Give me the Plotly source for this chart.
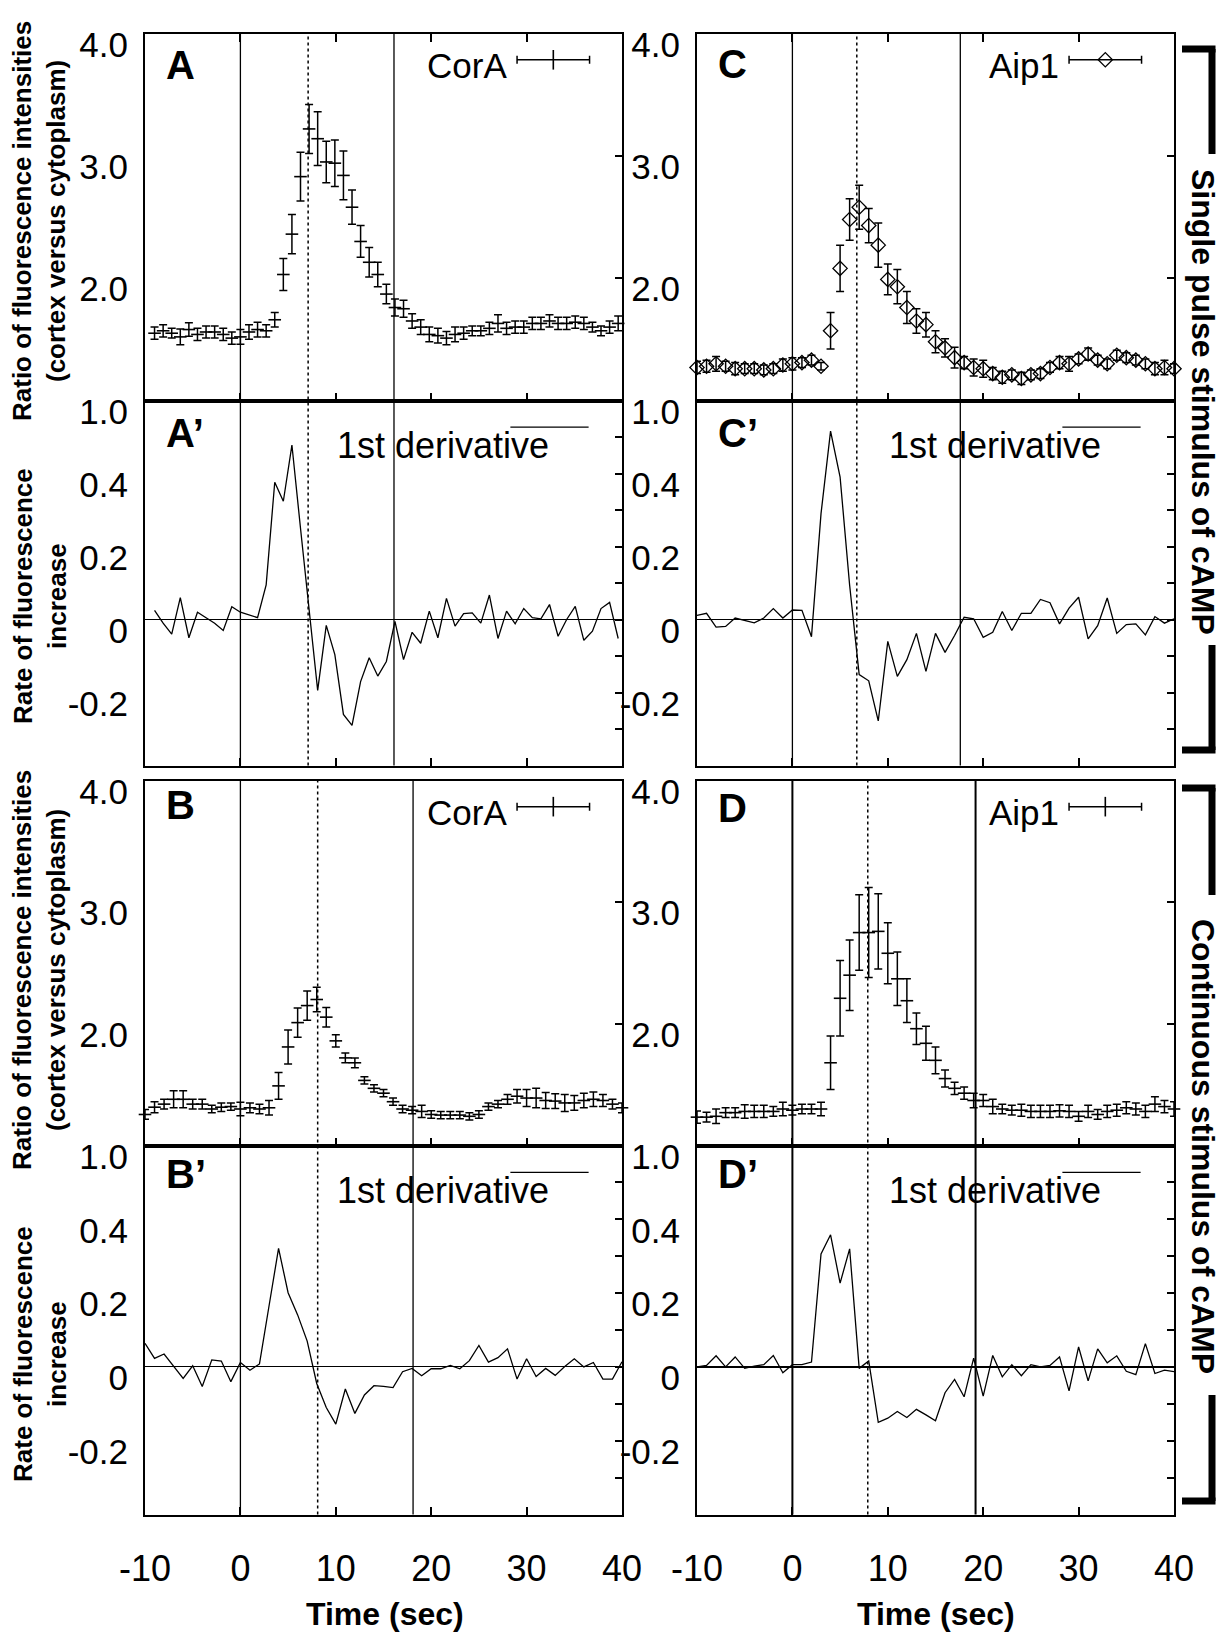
import plotly.graph_objects as go

W, H = 1227, 1634
FONT = "Liberation Sans, Arial, Helvetica, sans-serif"

# ---------------- data ----------------
TIME_A = [-9.0, -8.1, -7.2, -6.3, -5.4, -4.5, -3.6, -2.7, -1.8, -0.9,
          0.0, 0.9, 1.8, 2.7, 3.6, 4.5, 5.4, 6.3, 7.2, 8.1,
          9.0, 9.9, 10.8, 11.7, 12.6, 13.5, 14.4, 15.3, 16.2, 17.1,
          18.0, 18.9, 19.8, 20.7, 21.6, 22.5, 23.4, 24.3, 25.2, 26.1,
          27.0, 27.9, 28.8, 29.7, 30.6, 31.5, 32.4, 33.3, 34.2, 35.1,
          36.0, 36.9, 37.8, 38.7, 39.6]
TIME_1S = [-10, -9, -8, -7, -6, -5, -4, -3, -2, -1,
           0, 1, 2, 3, 4, 5, 6, 7, 8, 9,
           10, 11, 12, 13, 14, 15, 16, 17, 18, 19,
           20, 21, 22, 23, 24, 25, 26, 27, 28, 29,
           30, 31, 32, 33, 34, 35, 36, 37, 38, 39, 40]

A_RATIO = [1.55, 1.57, 1.55, 1.52, 1.58, 1.54, 1.56, 1.56, 1.54, 1.51,
           1.52, 1.56, 1.58, 1.57, 1.66, 2.03, 2.36, 2.83, 3.22, 3.14,
           2.95, 2.94, 2.84, 2.58, 2.30, 2.13, 2.03, 1.87, 1.76, 1.75,
           1.65, 1.60, 1.54, 1.53, 1.51, 1.54, 1.55, 1.57, 1.57, 1.59,
           1.63, 1.59, 1.60, 1.60, 1.63, 1.63, 1.65, 1.63, 1.63, 1.64,
           1.63, 1.60, 1.57, 1.60, 1.63]
A_ERR = [0.05, 0.05, 0.04, 0.065, 0.055, 0.05, 0.05, 0.05, 0.05, 0.05,
         0.06, 0.06, 0.06, 0.05, 0.06, 0.13, 0.16, 0.20, 0.20, 0.22,
         0.17, 0.19, 0.20, 0.14, 0.13, 0.12, 0.10, 0.08, 0.07, 0.07,
         0.06, 0.06, 0.06, 0.06, 0.055, 0.06, 0.05, 0.04, 0.04, 0.05,
         0.07, 0.05, 0.05, 0.05, 0.05, 0.05, 0.05, 0.05, 0.05, 0.05,
         0.05, 0.04, 0.04, 0.05, 0.06]
A_DERIV = [0.025, -0.01, -0.04, 0.06, -0.05, 0.02, 0.005, -0.01, -0.03, 0.035,
           0.02, 0.012, 0.005, 0.095, 0.376, 0.324, 0.478, 0.25, 0.03, -0.194,
           -0.016, -0.096, -0.26, -0.29, -0.17, -0.105, -0.155, -0.115, -0.005, -0.11,
           -0.035, -0.065, 0.023, -0.05, 0.058, -0.018, 0.016, 0.018, -0.01, 0.067,
           -0.052, 0.023, -0.012, 0.03, 0.005, 0.002, 0.041, -0.046, 0.0, 0.036,
           -0.057, -0.032, 0.03, 0.047, -0.052]

B_RATIO = [1.255, 1.315, 1.34, 1.38, 1.38, 1.34, 1.34, 1.30, 1.315, 1.32,
           1.30, 1.31, 1.30, 1.31, 1.49, 1.81, 2.01, 2.15, 2.20, 2.055,
           1.86, 1.72, 1.68, 1.535, 1.47, 1.43, 1.36, 1.30, 1.29, 1.28,
           1.255, 1.25, 1.25, 1.25, 1.24, 1.255, 1.32, 1.34, 1.38, 1.405,
           1.39, 1.39, 1.37, 1.365, 1.35, 1.35, 1.37, 1.38, 1.37, 1.34, 1.31]
B_ERR = [0.04, 0.045, 0.04, 0.07, 0.07, 0.04, 0.04, 0.03, 0.035, 0.03,
         0.055, 0.04, 0.04, 0.06, 0.11, 0.14, 0.12, 0.12, 0.10, 0.08,
         0.05, 0.04, 0.04, 0.03, 0.03, 0.03, 0.03, 0.03, 0.03, 0.05,
         0.03, 0.03, 0.03, 0.03, 0.03, 0.03, 0.03, 0.03, 0.04, 0.055,
         0.07, 0.08, 0.065, 0.06, 0.07, 0.06, 0.06, 0.06, 0.05, 0.04, 0.04]
B_DERIV = [0.064, 0.023, 0.035, 0.003, -0.031, 0.003, -0.053, 0.019, 0.016, -0.04,
           0.012, -0.009, 0.008, 0.165, 0.321, 0.201, 0.141, 0.07, -0.045, -0.11,
           -0.155, -0.06, -0.126, -0.076, -0.051, -0.053, -0.056, -0.013, -0.004, -0.024,
           -0.005, -0.005, 0.004, -0.005, 0.017, 0.058, 0.013, 0.025, 0.049, -0.033,
           0.022, -0.026, -0.004, -0.023, 0.001, 0.022, 0.0, 0.012, -0.033, -0.033, 0.014]

C_RATIO = [1.27, 1.28, 1.30, 1.28, 1.26, 1.26, 1.26, 1.25, 1.26, 1.29,
           1.30, 1.31, 1.33, 1.28, 1.57, 2.08, 2.48, 2.58, 2.43, 2.27,
           1.99, 1.93, 1.76, 1.65, 1.62, 1.48, 1.43, 1.35, 1.31, 1.27,
           1.26, 1.22, 1.19, 1.21, 1.18, 1.21, 1.22, 1.27, 1.31, 1.30,
           1.34, 1.38, 1.33, 1.30, 1.37, 1.35, 1.33, 1.30, 1.26, 1.27, 1.26]
C_ERR = [0.05, 0.05, 0.06, 0.04, 0.05, 0.04, 0.04, 0.04, 0.04, 0.05,
         0.05, 0.04, 0.04, 0.03, 0.15, 0.19, 0.17, 0.18, 0.14, 0.18,
         0.125, 0.14, 0.13, 0.10, 0.10, 0.09, 0.075, 0.085, 0.05, 0.07,
         0.07, 0.05, 0.05, 0.04, 0.05, 0.04, 0.04, 0.04, 0.05, 0.06,
         0.04, 0.05, 0.04, 0.04, 0.04, 0.04, 0.04, 0.04, 0.05, 0.06, 0.04]
C_DERIV = [0.011, 0.017, -0.021, -0.019, 0.004, -0.003, -0.009, 0.004, 0.03, 0.004,
           0.026, 0.025, -0.047, 0.29, 0.516, 0.39, 0.094, -0.151, -0.168, -0.278,
           -0.06, -0.156, -0.11, -0.038, -0.142, -0.038, -0.09, -0.044, 0.006, 0.002,
           -0.049, -0.035, 0.022, -0.03, 0.017, 0.017, 0.055, 0.046, -0.012, 0.031,
           0.061, -0.053, -0.017, 0.059, -0.038, -0.014, -0.012, -0.042, 0.008, -0.01, 0.002]

D_RATIO = [1.233, 1.233, 1.24, 1.27, 1.27, 1.28, 1.28, 1.28, 1.28, 1.30,
           1.29, 1.30, 1.30, 1.30, 1.68, 2.21, 2.40, 2.75, 2.75, 2.76,
           2.58, 2.37, 2.19, 1.96, 1.84, 1.70, 1.55, 1.47, 1.43, 1.37,
           1.37, 1.32, 1.30, 1.29, 1.29, 1.28, 1.28, 1.28, 1.285, 1.28,
           1.24, 1.28, 1.255, 1.28, 1.29, 1.31, 1.30, 1.28, 1.34, 1.32, 1.30]
D_ERR = [0.05, 0.04, 0.06, 0.04, 0.04, 0.055, 0.05, 0.05, 0.04, 0.055,
         0.04, 0.04, 0.04, 0.055, 0.22, 0.31, 0.29, 0.31, 0.37, 0.31,
         0.25, 0.22, 0.18, 0.13, 0.14, 0.11, 0.07, 0.05, 0.05, 0.06,
         0.05, 0.06, 0.04, 0.04, 0.05, 0.05, 0.05, 0.05, 0.05, 0.05,
         0.04, 0.05, 0.04, 0.05, 0.05, 0.05, 0.05, 0.05, 0.06, 0.05, 0.06]
D_DERIV = [0.0, 0.004, 0.03, 0.0, 0.027, -0.004, 0.002, 0.006, 0.031, -0.016,
           0.006, 0.006, 0.013, 0.306, 0.358, 0.227, 0.32, -0.004, 0.016, -0.15,
           -0.139, -0.121, -0.137, -0.115, -0.13, -0.146, -0.07, -0.034, -0.081, 0.024,
           -0.079, 0.031, -0.027, 0.006, -0.024, 0.006, 0.0, 0.004, 0.027, -0.065,
           0.054, -0.038, 0.049, 0.011, 0.03, -0.012, -0.021, 0.063, -0.018, -0.009, -0.013]

# event times (s): (dotted peak line, second solid line); a solid line is also at 0
A_EVENTS = (7.1, 16.1)
B_EVENTS = (8.1, 18.1)
C_EVENTS = (6.75, 17.6)
D_EVENTS = (7.9, 19.2)

X_TICKS = [-10, 0, 10, 20, 30, 40]
X_TICK_TEXT = ["-10", "0", "10", "20", "30", "40"]
UPPER_TICKS = [1, 2, 3, 4]
UPPER_TICK_TEXT = ["1.0", "2.0", "3.0", "4.0"]
LOWER_TICKS = [-0.3, -0.2, -0.1, 0, 0.1, 0.2, 0.3, 0.4, 0.5]
LOWER_TICK_TEXT = ["", "-0.2", "", "0", "", "0.2", "", "0.4", ""]

# ---------------- layout geometry (pixels) ----------------
COLS = {"left": (137, 614), "right": (689, 1166)}
ROWS = [(25.5, 392.5), (392.5, 757.5), (772.5, 1137.5), (1137.5, 1506.5)]


def fx(p):
    return p / W


def fy(p):
    return 1 - p / H


def names(i):
    xa = "x" if i == 1 else f"x{i}"
    ya = "y" if i == 1 else f"y{i}"
    return xa, ya


def lkey(a):
    return a[0] + "axis" + a[1:]


experiments = [
    dict(letter="A", col="left", row=0, name="CorA", t=TIME_A, ratio=A_RATIO, err=A_ERR,
         deriv=A_DERIV, symbol="line-ew", events=A_EVENTS, topticks=True, lw=1.3,
         lab_up=57, lab_lo=425, xlabels=False),
    dict(letter="B", col="left", row=2, name="CorA", t=TIME_1S, ratio=B_RATIO, err=B_ERR,
         deriv=B_DERIV, symbol="line-ew", events=B_EVENTS, topticks=False, lw=1.3,
         lab_up=797, lab_lo=1166, xlabels=True),
    dict(letter="C", col="right", row=0, name="Aip1", t=TIME_1S, ratio=C_RATIO, err=C_ERR,
         deriv=C_DERIV, symbol="diamond-open", events=C_EVENTS, topticks=True, lw=1.3,
         lab_up=56, lab_lo=425, xlabels=False),
    dict(letter="D", col="right", row=2, name="Aip1", t=TIME_1S, ratio=D_RATIO, err=D_ERR,
         deriv=D_DERIV, symbol="line-ew", events=D_EVENTS, topticks=False, lw=2.0,
         lab_up=800, lab_lo=1166, xlabels=True),
]

fig = go.Figure()
layout = dict(template="none", width=W, height=H,
              margin=dict(l=0, r=0, t=0, b=0, pad=0, autoexpand=False),
              paper_bgcolor="white", plot_bgcolor="white", showlegend=False,
              font=dict(family=FONT, color="black"))
shapes = []
annotations = []

for k, ex in enumerate(experiments):
    iu, il = 2 * k + 1, 2 * k + 2
    xu, yu = names(iu)
    xl, yl = names(il)
    _, you = names(iu + 8)
    _, yol = names(il + 8)
    c0, c1 = COLS[ex["col"]]
    rt_u, rb_u = ROWS[ex["row"]]
    rt_l, rb_l = ROWS[ex["row"] + 1]
    xdom = [fx(c0), fx(c1)]

    common_x = dict(range=[-10, 40], tickvals=X_TICKS, ticktext=X_TICK_TEXT, ticks="inside",
                    ticklen=8, tickwidth=1.5, tickcolor="black", showline=True, linewidth=2,
                    linecolor="black", showgrid=False, zeroline=False, domain=xdom,
                    automargin=False)
    layout[lkey(xu)] = dict(common_x, anchor=yu, showticklabels=False,
                            mirror="ticks" if ex["topticks"] else True)
    layout[lkey(xl)] = dict(common_x, anchor=yl, mirror=True, showticklabels=ex["xlabels"],
                            tickfont=dict(size=36), ticklabelstandoff=21)

    layout[lkey(yu)] = dict(range=[1, 4], domain=[fy(rb_u), fy(rt_u)], anchor=xu,
                            tickvals=UPPER_TICKS, ticktext=UPPER_TICK_TEXT, ticks="",
                            showline=True, linewidth=2, linecolor="black", mirror=True,
                            showgrid=False, zeroline=False, tickfont=dict(size=35),
                            ticklabelshift=11, ticklabelstandoff=8, automargin=False)
    layout[lkey(yl)] = dict(range=[-0.4, 0.6], domain=[fy(rb_l), fy(rt_l)], anchor=xl,
                            tickvals=LOWER_TICKS, ticktext=LOWER_TICK_TEXT, ticks="",
                            showline=True, linewidth=2, linecolor="black", mirror=True,
                            showgrid=False, zeroline=True, zerolinecolor="black",
                            zerolinewidth=ex["lw"], tickfont=dict(size=35),
                            ticklabelshift=11, ticklabelstandoff=8, automargin=False)
    # right-hand inward ticks
    layout[lkey(you)] = dict(range=[1, 4], overlaying=yu, side="right", anchor=xu,
                             tickvals=[2, 3], ticks="inside", ticklen=7, tickwidth=1.5,
                             tickcolor="black", showticklabels=False, showline=False,
                             showgrid=False, zeroline=False, automargin=False)
    layout[lkey(yol)] = dict(range=[-0.4, 0.6], overlaying=yl, side="right", anchor=xl,
                             tickvals=LOWER_TICKS, ticks="inside", ticklen=7, tickwidth=1.5,
                             tickcolor="black", showticklabels=False, showline=False,
                             showgrid=False, zeroline=False, automargin=False)
    fig.add_trace(go.Scatter(x=[], y=[], xaxis=xu, yaxis=you, hoverinfo="skip"))
    fig.add_trace(go.Scatter(x=[], y=[], xaxis=xl, yaxis=yol, hoverinfo="skip"))

    # ratio with error bars
    if ex["symbol"] == "diamond-open":
        mk = dict(symbol="diamond-open", size=11, color="black", line=dict(color="black", width=1.3))
        lmk = mk
    else:
        mk = dict(symbol="line-ew", size=9, color="black", line=dict(color="black", width=1.6))
        lmk = dict(symbol="line-ns", size=14, color="black", line=dict(color="black", width=1.6))
    fig.add_trace(go.Scatter(x=ex["t"], y=ex["ratio"], mode="markers", marker=mk,
                             error_y=dict(type="data", array=ex["err"], visible=True,
                                          color="black", thickness=1.5, width=4),
                             cliponaxis=False, xaxis=xu, yaxis=yu, hoverinfo="skip"))
    # derivative line
    fig.add_trace(go.Scatter(x=ex["t"], y=ex["deriv"], mode="lines",
                             line=dict(color="black", width=1.3),
                             xaxis=xl, yaxis=yl, hoverinfo="skip"))

    # legend sample (upper)
    fig.add_trace(go.Scatter(x=[32.8], y=[3.785], mode="markers", marker=lmk,
                             error_x=dict(type="data", array=[3.8], visible=True,
                                          color="black", thickness=1.5, width=4),
                             cliponaxis=False, xaxis=xu, yaxis=yu, hoverinfo="skip"))
    annotations.append(dict(text=ex["name"], x=28.2, y=3.74, xref=xu, yref=yu,
                            xanchor="right", yanchor="middle", showarrow=False,
                            font=dict(size=35)))
    # legend sample (lower)
    shapes.append(dict(type="line", xref=xl, yref=yl, x0=28.3, x1=36.5, y0=0.527, y1=0.527,
                       line=dict(color="black", width=1.3)))
    annotations.append(dict(text="1st derivative", x=9.9, y=0.478, xref=xl, yref=yl,
                            xanchor="left", yanchor="middle", showarrow=False,
                            font=dict(size=36)))

    # event lines spanning both panels
    dotted, second = ex["events"]
    for xv, dash in [(0, "solid"), (second, "solid"), (dotted, "dot")]:
        shapes.append(dict(type="line", xref=xu, yref="paper", x0=xv, x1=xv,
                           y0=fy(rb_l), y1=fy(rt_u),
                           line=dict(color="black", width=ex["lw"] if dash == "solid" else 1.5,
                                     dash=dash)))

    # panel letters
    annotations.append(dict(text="<b>%s</b>" % ex["letter"], x=fx(c0 + 19), y=fy(ex["lab_up"]),
                            xref="paper", yref="paper", xanchor="left", yanchor="middle",
                            showarrow=False, font=dict(size=40)))
    annotations.append(dict(text="<b>%s\u2019</b>" % ex["letter"], x=fx(c0 + 19), y=fy(ex["lab_lo"]),
                            xref="paper", yref="paper", xanchor="left", yanchor="middle",
                            showarrow=False, font=dict(size=40)))

# y-axis titles (left column)
for cy in (213, 962):
    annotations.append(dict(text="<b>Ratio of fluorescence intensities<br>(cortex versus cytoplasm)</b>",
                            x=fx(31), y=fy(cy), xref="paper", yref="paper", textangle=-90,
                            xanchor="center", yanchor="middle", showarrow=False,
                            font=dict(size=26)))
for cy in (588, 1346):
    annotations.append(dict(text="<b>Rate of fluorescence<br>increase</b>",
                            x=fx(32), y=fy(cy), xref="paper", yref="paper", textangle=-90,
                            xanchor="center", yanchor="middle", showarrow=False,
                            font=dict(size=26)))
# x-axis titles
for cx in (377, 928):
    annotations.append(dict(text="<b>Time (sec)</b>", x=fx(cx), y=fy(1606), xref="paper",
                            yref="paper", xanchor="center", yanchor="middle", showarrow=False,
                            font=dict(size=32)))

# right-hand brackets
BR_X0, BR_X1 = 1174, 1204
for (top, upper_end, lower_start, bottom, label, cy) in [
        (41, 146, 637, 742, "Single pulse stimulus of cAMP", 394),
        (780, 887, 1387, 1493, "Continuous stimulus of cAMP", 1138)]:
    for (x0, y0, x1, y1) in [(BR_X0, top, BR_X1 + 3.5, top), (BR_X1, top, BR_X1, upper_end),
                             (BR_X1, lower_start, BR_X1, bottom), (BR_X0, bottom, BR_X1 + 3.5, bottom)]:
        shapes.append(dict(type="line", xref="paper", yref="paper", x0=fx(x0), x1=fx(x1),
                           y0=fy(y0), y1=fy(y1), line=dict(color="black", width=7)))
    annotations.append(dict(text="<b>%s</b>" % label, x=fx(1195), y=fy(cy), xref="paper",
                            yref="paper", textangle=90, xanchor="center", yanchor="middle",
                            showarrow=False, font=dict(size=32)))

layout["shapes"] = shapes
layout["annotations"] = annotations
fig.update_layout(**layout)
fig.write_html("out.html")
